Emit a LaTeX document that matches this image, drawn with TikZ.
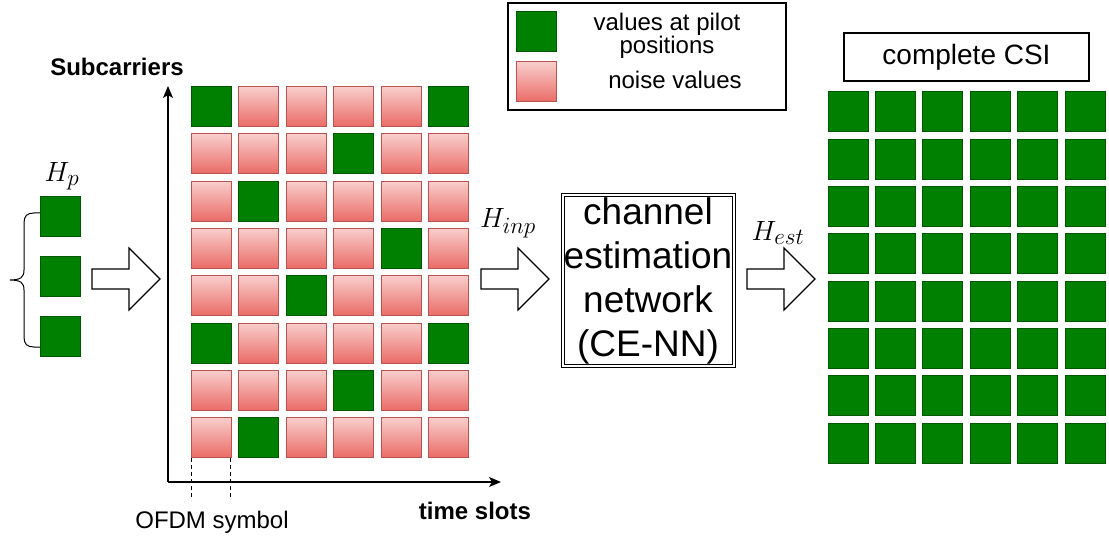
\documentclass[tikz,border=0pt]{standalone}
\usepackage{fontspec}
\setmainfont{Liberation Sans}
\usetikzlibrary{arrows.meta}

\definecolor{pilotfill}{HTML}{008000}
\definecolor{pilotline}{HTML}{005700}
\definecolor{noisetop}{HTML}{F8CECC}
\definecolor{noisebot}{HTML}{EA6B66}
\definecolor{noiseline}{HTML}{B85450}

% cells of the resource grid that carry pilots (row-column)
\def\pilotcells{,0-0,0-5,1-3,2-1,3-4,4-2,5-0,5-5,6-3,7-1,}
\makeatletter
\newcommand\ifpilotcell[3]{%
  \edef\pilot@test{\noexpand\in@{,#1,}{\pilotcells}}\pilot@test
  \ifin@ #2\else #3\fi}
\makeatother

\tikzset{
  cellbase/.style={minimum size=40, inner sep=0, line width=1pt},
  pilotcell/.style={cellbase, draw=pilotline, fill=pilotfill},
  noisecell/.style={cellbase, draw=noiseline, top color=noisetop, bottom color=noisebot},
  axisline/.style={line width=1.2pt, -{Stealth[length=12pt,width=10pt,inset=3pt]}},
  boxlabel/.style={inner sep=0, font=\fontsize{24}{22}\selectfont, align=center},
  axislabel/.style={inner sep=0, font=\fontsize{24}{26}\selectfont\bfseries},
  mathlabel/.style={inner sep=0, font=\fontsize{24.88}{30}\selectfont, scale=1.12, transform shape},
  blockarrow/.pic={
    \draw[line width=1.2pt, fill=white]
      (0,-10) -- (37,-10) -- (37,-31) -- (68,0) -- (37,31) -- (37,10) -- (0,10) -- cycle;
  }
}

\begin{document}
\begin{tikzpicture}[x=1pt, y=-1pt]
\useasboundingbox[fill=white] (0,0) rectangle (1109,540);

% ---- pilot values H_p with brace ----
\node[mathlabel] (hp) at (62,176) {$H_p$};
\foreach \i/\yy in {1/217,2/277,3/336}
  \node[pilotcell] (p\i) at (60,\yy) {};
\draw[line width=1pt]
  (40,213) -- (34,213) .. controls (27,213) and (24,216) .. (24,223)
  -- (24,270) .. controls (24,277) and (21,280) .. (10,280)
  .. controls (21,280) and (24,283) .. (24,290)
  -- (24,337) .. controls (24,344) and (27,347) .. (34,347) -- (40,347);

\pic at (92,279) {blockarrow};

% ---- resource grid with pilots and noise ----
\coordinate (origin) at (168,482);
\coordinate (ytip) at (168,86);
\coordinate (xtip) at (501,482);
\draw[axisline] (origin) -- (ytip);
\draw[axisline] (origin) -- (xtip);
\node[axislabel] (sub) at (117,67) {Subcarriers};
\node[axislabel] (time) at (475,511) {time slots};

\foreach \row in {0,...,7}{
  \foreach \col in {0,...,5}{
    \ifpilotcell{\row-\col}
      {\node[pilotcell] (m-\row-\col) at ({211.5+47.4*\col},{106.5+47.3*\row}) {};}
      {\node[noisecell] (m-\row-\col) at ({211.5+47.4*\col},{106.5+47.3*\row}) {};}
  }
}

\draw[line width=1pt, dash pattern=on 4pt off 3pt]
  (m-7-0.south west) -- ++(0,42) coordinate (d1);
\draw[line width=1pt, dash pattern=on 4pt off 3pt]
  ([xshift=-2pt]m-7-0.south east) -- ++(0,42) coordinate (d2);
\node[boxlabel] (ofdm) at (212,522) {OFDM symbol};

% ---- legend ----
\node[draw, line width=1.2pt, minimum width=278, minimum height=107, inner sep=0] (legend) at (647,56.5) {};
\node[pilotcell] (legpilot) at (536.5,32) {};
\node[noisecell] (legnoise) at (536.5,82) {};
\node[boxlabel] (legpilottext) at (667,36) {values at pilot\\positions};
\node[boxlabel] (legnoisetext) at (675,80) {noise values};

% ---- estimator ----
\node[mathlabel] (hinp) at (508,223) {$H_{inp}$};
\pic at (481,279) {blockarrow};
\node[draw, double, double distance=2pt, line width=1pt, inner sep=0,
      minimum width=171, minimum height=171, align=center,
      font=\fontsize{37}{44}\selectfont] (cenn) at (648,280.5)
  {channel\\estimation\\network\\(CE-NN)};
\node[mathlabel] (hest) at (778,233) {$H_{est}$};
\pic at (747,279) {blockarrow};

% ---- complete CSI ----
\node[draw, line width=1.2pt, minimum width=245, minimum height=48, inner sep=0,
      font=\fontsize{28}{30}\selectfont] (csi) at (966.5,57) {complete CSI};
\foreach \row in {0,...,7}{
  \foreach \col in {0,...,5}{
    \node[pilotcell] (c-\row-\col) at ({848+47.4*\col},{112+47.3*\row}) {};
  }
}
\end{tikzpicture}
\end{document}
